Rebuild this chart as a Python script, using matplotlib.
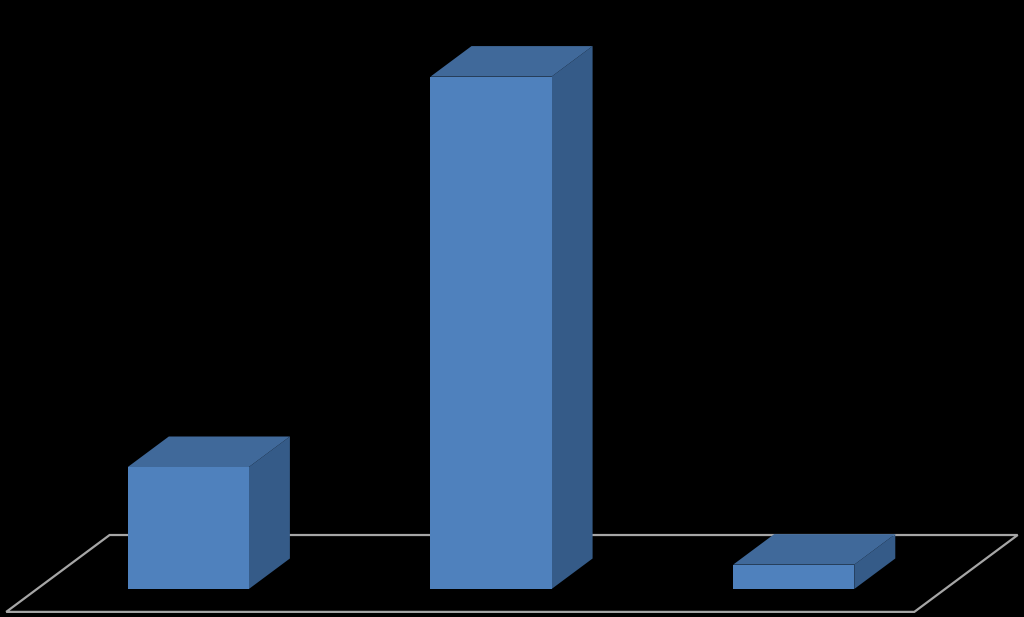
import matplotlib
matplotlib.use("Agg")
import matplotlib.pyplot as plt
from matplotlib.patches import Polygon

categories = ["A", "B", "C"]
values = [5, 21, 1]

# look of the fake 3d
bar_w = 0.4
gap = 0.3
ddx, ddy = 0.1355, 1.25     # shift of one unit of depth, in data units
floor_front, floor_back = -0.75, 1.77

front_col = "#4f81bd"
top_col = "#40699a"
side_col = "#355b88"

fig = plt.figure(figsize=(10.24, 6.17), dpi=100, facecolor="black")
ax = fig.add_axes([0, 0, 1, 1], facecolor="black")
ax.set_xlim(-0.1222, 3.2607)
ax.set_ylim(-1.1475, 24.139)
ax.axis("off")


def pt(x, v, d):
    return (x + d * ddx, v + d * ddy)


# floor
n = len(categories)
floor = [pt(0, 0, floor_front), pt(n, 0, floor_front),
         pt(n, 0, floor_back), pt(0, 0, floor_back)]
ax.add_patch(Polygon(floor, closed=True, fill=False, edgecolor="#a6a6a6", lw=1.6))

for i, v in enumerate(values):
    x0 = i + gap
    x1 = x0 + bar_w
    front = [pt(x0, 0, 0), pt(x1, 0, 0), pt(x1, v, 0), pt(x0, v, 0)]
    top = [pt(x0, v, 0), pt(x1, v, 0), pt(x1, v, 1), pt(x0, v, 1)]
    side = [pt(x1, 0, 0), pt(x1, 0, 1), pt(x1, v, 1), pt(x1, v, 0)]
    ax.add_patch(Polygon(side, closed=True, facecolor=side_col, edgecolor="none"))
    ax.add_patch(Polygon(top, closed=True, facecolor=top_col, edgecolor="none"))
    ax.add_patch(Polygon(front, closed=True, facecolor=front_col, edgecolor="none"))

fig.savefig("out.png", dpi=100, facecolor="black")
